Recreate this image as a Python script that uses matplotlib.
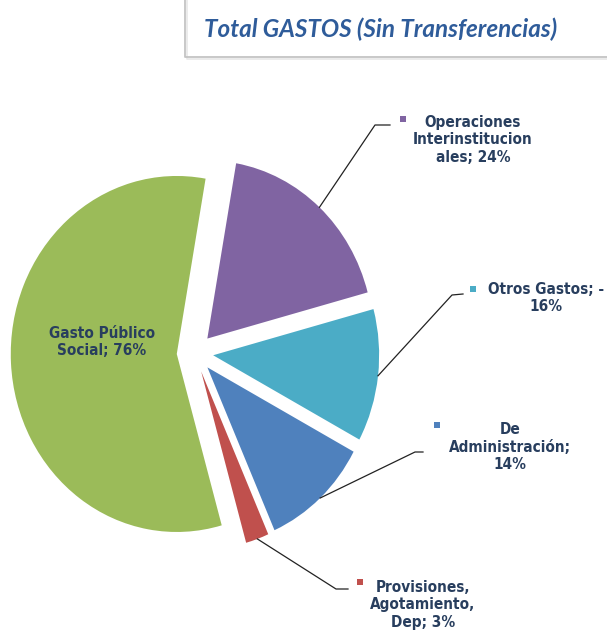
import matplotlib
matplotlib.use('Agg')
import matplotlib.pyplot as plt
from matplotlib.lines import Line2D
import numpy as np

# datos del grafico (orden en sentido horario desde arriba)
valores = [24, -16, 14, 3, 76]
etiquetas = ['Operaciones\nInterinstitucion\nales; 24%',
             'Otros Gastos; -\n16%',
             'De\nAdministración;\n14%',
             'Provisiones,\nAgotamiento,\nDep; 3%',
             'Gasto Público\nSocial; 76%']
colores = ['#8064A2', '#4BACC6', '#4F81BD', '#C0504D', '#9BBB59']
titulo = 'Total GASTOS (Sin Transferencias)'

# posiciones en pixeles (x, y desde arriba)
W, H = 607, 633
CX, CY, RX, RY = 195, 353, 166, 178
pos_texto = [(473, 140), (546, 298), (510, 447), (423, 605), (102, 342)]
pos_marca = [(403, 119), (473, 289), (437, 425), (360, 582), None]
codo = [(375, 125), (452, 295), (415, 452), (336, 589), None]
fin = [(390, 125), (463, 294), (423, 452), (348, 589), None]

def px(x, y):
    return ((x - CX) / RX, (CY - y) / RY)

fig = plt.figure(figsize=(W / 100, H / 100), dpi=100)
ax = fig.add_axes([0, 0, 1, 1])

wedges, _ = ax.pie(np.abs(valores), colors=colores, startangle=80, counterclock=False,
                   explode=[0.11] * len(valores), wedgeprops={'linewidth': 0})
ax.set_xlim(-CX / RX, (W - CX) / RX)
ax.set_ylim(-(H - CY) / RY, CY / RY)
ax.set_aspect('auto')
ax.axis('off')

color_txt = '#283E5E'

for w, et, pt, pm, cd, fn, c in zip(wedges, etiquetas, pos_texto, pos_marca, codo, fin, colores):
    ax.text(*px(*pt), et, ha='center', va='center', fontsize=11, fontweight='bold',
            family='DejaVu Sans', stretch='condensed', color=color_txt, linespacing=1.2)
    if pm is None:
        continue
    ang = np.deg2rad((w.theta1 + w.theta2) / 2)
    x0 = w.center[0] + w.r * np.cos(ang)
    y0 = w.center[1] + w.r * np.sin(ang)
    x1, y1 = px(*cd)
    x2, y2 = px(*fn)
    ax.plot([x0, x1, x2], [y0, y1, y2], color='#222222', lw=0.9)
    ax.plot(*px(*pm), marker='s', ms=5, color=c, mew=0)

# caja del titulo
yb = 1 - 57 / H
xl = 185 / W
fig.add_artist(Line2D([xl + 0.003, xl + 0.003, 1], [1, yb - 0.003, yb - 0.003],
                      transform=fig.transFigure, color='#E8E8E8', lw=1.2))
fig.add_artist(Line2D([xl, xl, 1], [1, yb, yb], transform=fig.transFigure,
                      color='#C4C4C4', lw=1.3))
fig.text(381 / W, 1 - 29 / H, titulo, ha='center', va='center', fontsize=17.5,
         fontweight='bold', style='italic', family=['Lato', 'DejaVu Sans'], color='#2F5C9A')

fig.savefig('out.png', dpi=100)
